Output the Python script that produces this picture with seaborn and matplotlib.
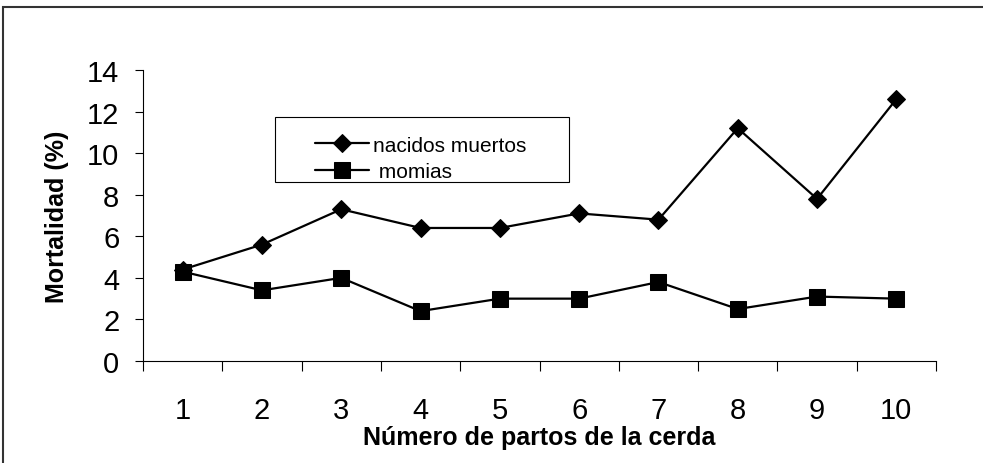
import matplotlib
matplotlib.use("Agg")
import matplotlib.pyplot as plt
import seaborn as sns
import pandas as pd
from matplotlib.patches import Rectangle
from matplotlib.ticker import FixedLocator, NullFormatter

partos = [1, 2, 3, 4, 5, 6, 7, 8, 9, 10]
nacidos_muertos = [4.4, 5.6, 7.3, 6.4, 6.4, 7.1, 6.8, 11.2, 7.8, 12.6]
momias = [4.3, 3.4, 4.0, 2.4, 3.0, 3.0, 3.8, 2.5, 3.1, 3.0]
y_ticks = [0, 2, 4, 6, 8, 10, 12, 14]

sns.set_style("ticks")
plt.rcParams['font.family'] = ['Liberation Sans', 'DejaVu Sans']
for k in ["text.color", "axes.labelcolor", "xtick.color", "ytick.color", "axes.edgecolor"]:
    plt.rcParams[k] = "black"

fig = plt.figure(figsize=(9.83, 4.64), dpi=100)
ax = fig.add_axes([143/983, 1 - 362/464, (936-143)/983, (362-71)/464])

df = pd.DataFrame({"partos": partos, "nacidos": nacidos_muertos, "momias": momias})
sns.lineplot(data=df, x="partos", y="nacidos", ax=ax, color="black", lw=1.6,
             marker="D", markersize=9.5, markeredgecolor="black", label="nacidos muertos")
sns.lineplot(data=df, x="partos", y="momias", ax=ax, color="black", lw=1.6,
             marker="s", markersize=11, markeredgecolor="black", label=" momias")

ax.set_xlim(0.5, 10.5)
ax.set_ylim(0, 14)
ax.set_yticks(y_ticks)
ax.set_yticklabels([str(v) for v in y_ticks], fontsize=21)
ax.xaxis.set_major_locator(FixedLocator([p - 0.5 for p in partos] + [10.5]))
ax.xaxis.set_major_formatter(NullFormatter())
ax.xaxis.set_minor_locator(FixedLocator(partos))
ax.set_xticklabels([str(p) for p in partos], minor=True, fontsize=21)
ax.tick_params(axis="x", which="minor", length=0, pad=25)
ax.tick_params(axis="x", which="major", length=7, width=0.8, direction="out")
ax.tick_params(axis="y", length=6, width=0.8, direction="out", pad=11)

for s in ["top", "right"]:
    ax.spines[s].set_visible(False)
for s in ["left", "bottom"]:
    ax.spines[s].set_linewidth(0.8)
    ax.spines[s].set_color("black")

ax.set_xlabel("Número de partos de la cerda", fontsize=18, fontweight="bold", labelpad=1)
ax.set_ylabel("Mortalidad (%)", fontsize=18, fontweight="bold", labelpad=13)

leg = ax.legend(loc="upper left", bbox_to_anchor=((310-143)/793 - 0.012, (362-122)/291),
                frameon=False, fontsize=15, handlelength=2.6, handletextpad=0.2,
                labelspacing=0.35, borderpad=0.2)

# legend frame
fig.patches.append(Rectangle((275/983, 1-183/464), (569-275)/983, (183-118)/464,
                             transform=fig.transFigure, fill=False, edgecolor="black", lw=0.8))
# outer frame
fig.patches.append(Rectangle((3/983, -0.2), 1.2, 1.2 - 8/464,
                             transform=fig.transFigure, fill=False, edgecolor="#333333", lw=1.5))

fig.savefig("out.png", dpi=100)
